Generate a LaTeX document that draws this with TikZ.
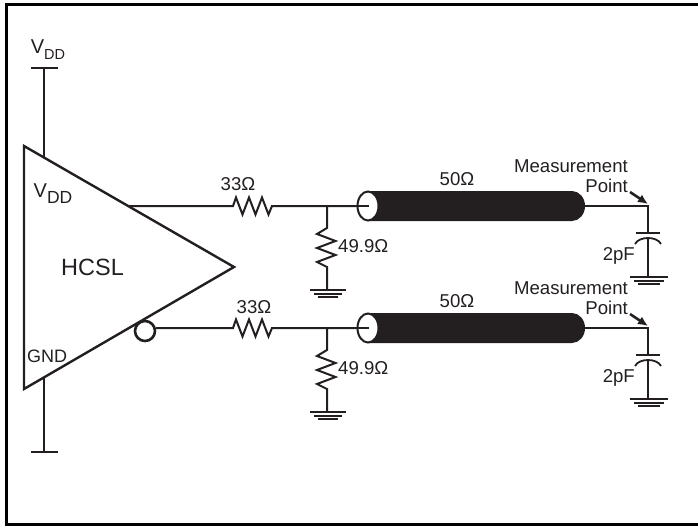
\documentclass[tikz,border=0pt]{standalone}
\usepackage{fontspec}
\usepackage{ifthen}
\setmainfont{Liberation Sans}
\usetikzlibrary{calc,shapes.geometric,arrows.meta}
\definecolor{inkdark}{HTML}{231F20}
\tikzset{
	wire/.style={line width=2pt,inkdark},
	label/.style={inner sep=0pt,text=inkdark,font=\fontsize{18.6}{20}\selectfont},
	thinplate/.style={line width=1.8pt,inkdark},
}
\newcommand{\vdd}[1]{V\raisebox{-0.3em}{\fontsize{#1}{#1}\selectfont DD}}
\begin{document}
\begin{tikzpicture}[x=1pt,y=-1pt]
\useasboundingbox (0,0) rectangle (698,527);
\coordinate (FrameTop) at (698,4.7);
\coordinate (FrameCornerA) at (6.3,4.7);
\coordinate (FrameCornerB) at (6.3,524.3);
\coordinate (FrameBot) at (698,524.3);
\draw[line width=2.9pt,black,line join=miter] (FrameTop) -- (FrameCornerA) -- (FrameCornerB) -- (FrameBot);

% driver triangle
\coordinate (TopLeft) at (24,146);
\coordinate (BotLeft) at (24,389);
\coordinate (Apex) at (234,267);
\draw[line width=2.4pt,inkdark,line join=miter] (TopLeft) -- (Apex) -- (BotLeft) -- cycle;
\coordinate (VddPin) at (43.5,157);
\coordinate (VddEnd) at (43.5,68);
\coordinate (GndPin) at (43.5,378);
\coordinate (GndEnd) at (43.5,452);
\draw[wire] (VddPin) -- (VddEnd);
\draw[wire] (GndPin) -- (GndEnd);
\draw[line width=2.4pt,inkdark] ($(VddEnd)+(-13,0)$) -- ($(VddEnd)+(14,0)$);
\draw[line width=2.4pt,inkdark] ($(GndEnd)+(-13,0)$) -- ($(GndEnd)+(14,0)$);
\node[label,font=\fontsize{20}{22}\selectfont] (VddTop) at (48,49.5) {\vdd{14.5}};
\node[label,font=\fontsize{20}{22}\selectfont] (VddIn) at (53,194) {\vdd{17.5}};
\node[label,font=\fontsize{23.5}{25}\selectfont] (Hcsl) at (92.5,267) {HCSL};
\node[label,font=\fontsize{18}{20}\selectfont] (Gnd) at (47,356) {GND};
\node[draw=inkdark,line width=2.6pt,circle,inner sep=0pt,minimum size=20pt,fill=white] (Bubble) at (145,331) {};

\foreach \y in {0,122}
	{
	\ifthenelse{\y = 0}{
		\coordinate (Start) at (128,206);
	}%else
	{
		\coordinate (Start) at (Bubble.15);
	}
	\coordinate (ResIn) at (233,206+\y);
	\coordinate (ResOut) at (273,206+\y);
	\coordinate (Tee) at (327,206+\y);
	\coordinate (ShuntIn) at (327,228+\y);
	\coordinate (ShuntOut) at (327,269+\y);
	\coordinate (ShuntGnd) at (327,290+\y);
	\coordinate (CableIn) at (369,206+\y);
	\coordinate (CableOut) at (585,206+\y);
	\coordinate (Meas) at (648,206+\y);
	\coordinate (PlateTop) at (648,233+\y);
	\coordinate (CapGnd) at (648,277+\y);

	% series and shunt resistors
	\draw[wire] (Start) -- (ResIn) -- ++(3,-8.5) -- ++(6.5,17) -- ++(6.5,-17) -- ++(6.5,17) -- ++(6.5,-17) -- ++(6.5,17) -- ++(3.5,-8.5) -- (ResOut) -- (CableIn);
	\draw[wire] (Tee) -- (ShuntIn) -- ++(-10,6) -- ++(18.5,7) -- ++(-18.5,7) -- ++(18.5,7) -- ++(-18.5,7) -- ++(10,5) -- (ShuntOut) -- (ShuntGnd);
	\draw[wire] ($(ShuntGnd)+(-17,0)$) -- ($(ShuntGnd)+(19,0)$);
	\draw[wire] ($(ShuntGnd)+(-13,3.5)$) -- ($(ShuntGnd)+(15,3.5)$);
	\draw[wire] ($(ShuntGnd)+(-9,7)$) -- ($(ShuntGnd)+(11,7)$);

	% coax
	\fill[inkdark] ($(CableIn)+(0,-15)$) -- ($(CableOut)+(-13,-15)$) arc[start angle=-90,end angle=90,x radius=13,y radius=15] -- ($(CableIn)+(0,15)$) -- cycle;
	\node[draw=inkdark,line width=2pt,ellipse,fill=white,inner sep=0pt,minimum width=21pt,minimum height=29pt] (Mouth) at ($(CableIn)+(-1,0)$) {};
	\draw[wire] (Tee) -- (CableIn);
	\draw[wire] (CableOut) -- (Meas) -- (PlateTop);
	\draw[thinplate] ($(PlateTop)+(-12,0)$) -- ($(PlateTop)+(12,0)$);
	\draw[thinplate] ($(PlateTop)+(-13,11)$) .. controls ($(PlateTop)+(-9,3)$) and ($(PlateTop)+(9,3)$) .. ($(PlateTop)+(13,11)$);
	\draw[wire] ($(PlateTop)+(0,5)$) -- (CapGnd);
	\draw[wire] ($(CapGnd)+(-18,0)$) -- ($(CapGnd)+(20,0)$);
	\draw[wire] ($(CapGnd)+(-14,3.5)$) -- ($(CapGnd)+(16,3.5)$);
	\draw[wire] ($(CapGnd)+(-10,7)$) -- ($(CapGnd)+(12,7)$);
	\draw[line width=2.6pt,inkdark,-{Latex[length=10pt,width=9pt]}] ($(Meas)+(-18,-14)$) -- ($(Meas)+(0,-2)$);

	% labels
	\node[label] (Fifty) at (457,179+\y) {50Ω};
	\node[label,anchor=west] (Shunt) at (338,246+\y) {49.9Ω};
	\node[label,anchor=east] (Cap) at (635,256+\y) {2pF};
	\node[label,anchor=east] (MeasA) at (628,166+\y) {Measurement};
	\node[label,anchor=east] (MeasB) at (628,186+\y) {Point};
	}
\node[label] (SerA) at (238,184) {33Ω};
\node[label] (SerB) at (254,307) {33Ω};
\end{tikzpicture}
\end{document}
